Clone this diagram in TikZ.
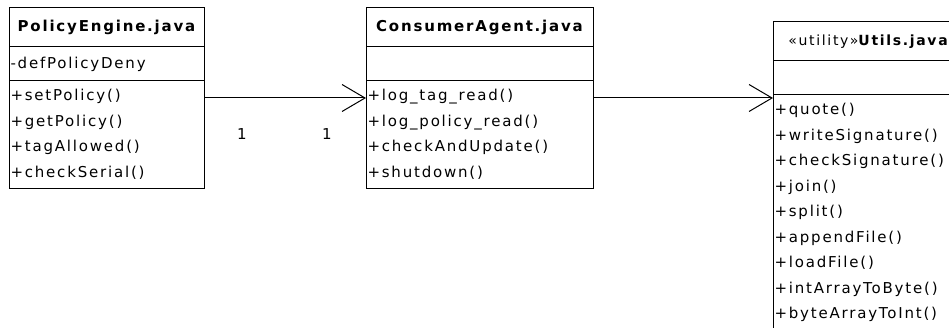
\documentclass[tikz,border=0pt]{standalone}
\usepackage{fontspec}
\newfontfamily\umlfont[LetterSpace=12]{DejaVu Sans}
\usetikzlibrary{arrows.meta, positioning}

\begin{document}
\begin{tikzpicture}[
    x=1pt, y=-1pt,
    % Define styles
    every node/.style={font=\umlfont\fontsize{15}{25.5}\selectfont},
    part/.style={draw, line width=1pt, outer sep=0pt, inner xsep=1.5pt, inner ysep=0pt},
    classname/.style={part, anchor=north west, minimum width=#1+3pt, minimum height=39pt, font=\umlfont\fontsize{15}{25.5}\selectfont\bfseries},
    fields/.style={part, text width=#1, align=left, minimum height=34pt},
    methods/.style n args={2}{part, text width=#1, align=left, text height=20pt, text depth=#2},
    multiplicity/.style={inner sep=0pt},
    assoc/.style={line width=1pt, -{Straight Barb[length=23pt, width=27pt, line width=1pt]}}
]
\useasboundingbox (0,0) rectangle (949,328);
\clip (0,0) rectangle (949,328);

% PolicyEngine class
\node[classname=192pt] (policy) at (9,8) {PolicyEngine.java};
\node[fields=192pt, below=0pt of policy] (policy_fields) {-defPolicyDeny};
\node[methods={192pt}{88pt}, below=0pt of policy_fields] (policy_methods)
    {+setPolicy()\\+getPolicy()\\+tagAllowed()\\+checkSerial()};

% ConsumerAgent class
\node[classname=224pt] (consumer) at (366,8) {ConsumerAgent.java};
\node[fields=224pt, below=0pt of consumer] (consumer_fields) {};
\node[methods={224pt}{88pt}, below=0pt of consumer_fields] (consumer_methods)
    {+log\_tag\_read()\\+log\_policy\_read()\\+checkAndUpdate()\\+shutdown()};

% Utils class
\node[classname=187pt, font=\umlfont\fontsize{14}{25.5}\selectfont] (utils) at (773,22)
    {«utility»\bfseries Utils.java};
\node[fields=187pt, below=0pt of utils] (utils_fields) {};
\node[methods={187pt}{250pt}, below=0pt of utils_fields] (utils_methods)
    {+quote()\\+writeSignature()\\+checkSignature()\\+join()\\+split()\\+appendFile()\\+loadFile()\\+intArrayToByte()\\+byteArrayToInt()};

% Associations
\draw[assoc] ([yshift=-17pt]policy_methods.north east) -- ([yshift=-17pt]consumer_methods.north west);
\draw[assoc] ([yshift=-17pt]consumer_methods.north east) -- ([yshift=-3pt]utils_methods.north west);

% Multiplicities
\node[multiplicity] (mult_policy) at (242,134) {1};
\node[multiplicity] (mult_consumer) at (327,134) {1};

\end{tikzpicture}
\end{document}
